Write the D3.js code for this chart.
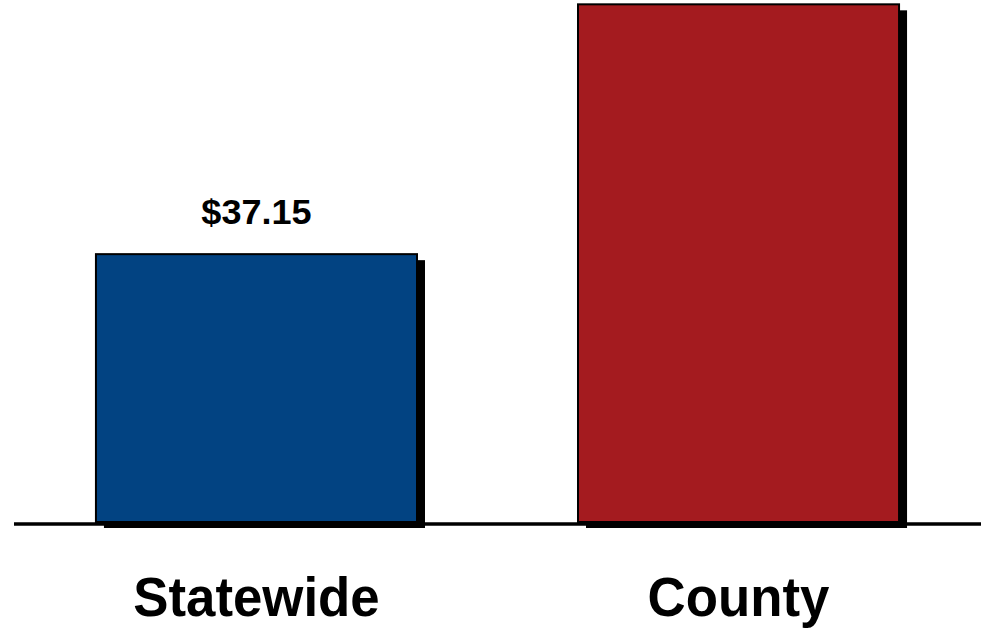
<!DOCTYPE html>
<html><head><meta charset="utf-8">
<script src="https://cdn.jsdelivr.net/npm/d3@7"></script>
<style>html,body{margin:0;padding:0;background:#fff;overflow:hidden}</style>
</head><body>
<svg id="c" width="982" height="629"></svg>
<script>
const categories = ["Statewide", "County"];
const values = [37.15, 71.8];
const valueLabels = ["$37.15", null];
const colors = ["#024382", "#A41B1F"];

const svg = d3.select("#c");
const x = d3.scaleBand().domain(categories).range([14, 981]).paddingInner(0.334).paddingOuter(0.17);
const y = d3.scaleLinear().domain([0, 72.4]).range([522, 0]);
const font = "'Liberation Sans', Arial, sans-serif";

// shadows
svg.selectAll("rect.sh").data(categories).join("rect")
  .attr("class","sh")
  .attr("x", d => x(d) + 8)
  .attr("y", (d,i) => y(values[i]) + 6)
  .attr("width", x.bandwidth())
  .attr("height", (d,i) => y(0) - y(values[i]))
  .attr("fill", "#000");

// bars
svg.selectAll("rect.bar").data(categories).join("rect")
  .attr("class","bar")
  .attr("x", d => x(d))
  .attr("y", (d,i) => y(values[i]))
  .attr("width", x.bandwidth())
  .attr("height", (d,i) => y(0) - y(values[i]))
  .attr("fill", (d,i) => colors[i])
  .attr("stroke", "#000")
  .attr("stroke-width", 2);

// baseline
svg.append("line").attr("x1", 14).attr("x2", 981).attr("y1", y(0) + 2).attr("y2", y(0) + 2)
  .attr("stroke", "#000").attr("stroke-width", 3.5);

// value labels
svg.selectAll("text.val").data(categories.filter((d,i) => valueLabels[i])).join("text")
  .attr("class","val")
  .attr("transform", d => {
    const i = categories.indexOf(d);
    return `translate(${x(d) + x.bandwidth()/2},${y(values[i]) - 30}) scale(1.06,1.05)`;
  })
  .attr("text-anchor","middle")
  .attr("font-family", font).attr("font-weight","bold").attr("font-size", 34)
  .attr("fill","#000")
  .text(d => valueLabels[categories.indexOf(d)]);

// category labels
const xAxis = d3.axisBottom(x).tickSize(0).tickPadding(0);
const g = svg.append("g").attr("transform", `translate(0,${y(0)})`).call(xAxis);
g.select(".domain").remove();
g.selectAll("text")
  .attr("y", 0).attr("dy", 0)
  .attr("transform", "translate(0,94) scale(0.96,1)")
  .attr("font-family", font).attr("font-weight","bold").attr("font-size", 55)
  .attr("fill","#000");
</script>
</body></html>
